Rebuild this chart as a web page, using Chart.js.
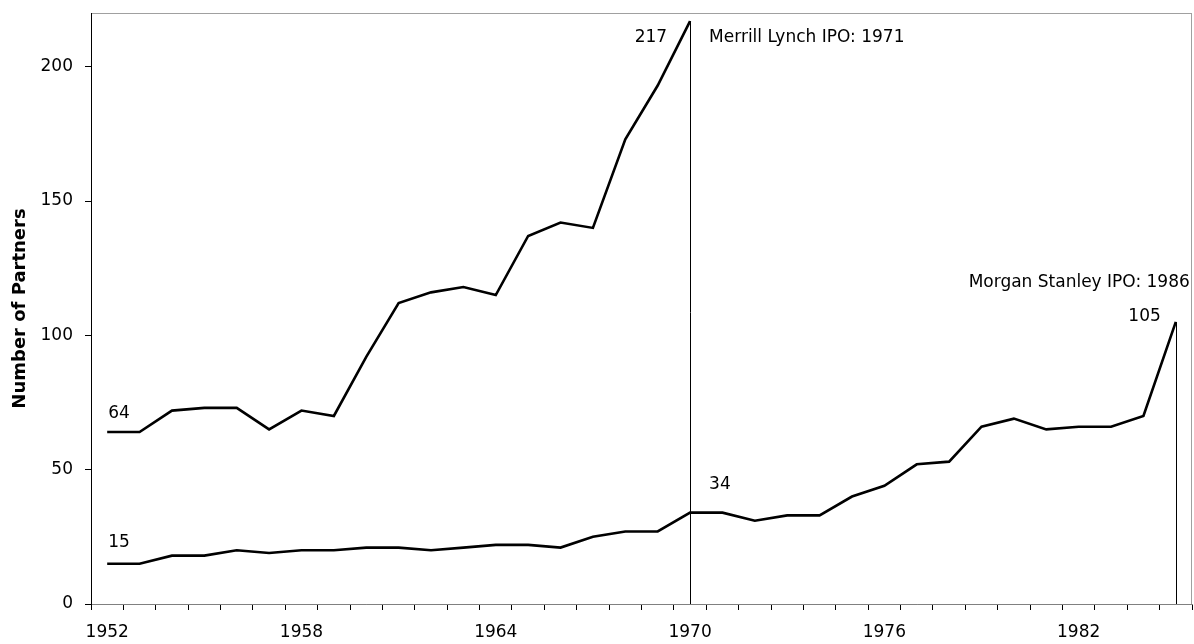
<!DOCTYPE html>
<html>
<head>
<meta charset="utf-8">
<title>Number of Partners</title>
<script src="https://cdn.jsdelivr.net/npm/chart.js@4.4.1/dist/chart.umd.min.js"></script>
<style>
  html, body { margin: 0; padding: 0; background: #fff; }
  #wrap { width: 1194px; height: 644px; }
</style>
</head>
<body>
<div id="wrap"><canvas id="partnersChart" width="1194" height="644"></canvas></div>
<script>
const years = [
  '1952', '1953', '1954', '1955', '1956', '1957', '1958', '1959', '1960', '1961',
  '1962', '1963', '1964', '1965', '1966', '1967', '1968', '1969', '1970', '1971',
  '1972', '1973', '1974', '1975', '1976', '1977', '1978', '1979', '1980', '1981',
  '1982', '1983', '1984', '1985'
];

// Merrill Lynch partners, 1952-1970
const merrillPartners = [64, 64, 72, 73, 73, 65, 72, 70, 92, 112, 116, 118, 115, 137, 142, 140, 173, 193, 217];

// Morgan Stanley partners, 1952-1985
const morganPartners = [
  15, 15, 18, 18, 20, 19, 20, 20, 21, 21, 20, 21, 22, 22, 21, 25, 27, 27, 34,
  34, 31, 33, 33, 40, 44, 52, 53, 66, 69, 65, 66, 66, 70, 105
];

const xTickLabels = ['1952', '1958', '1964', '1970', '1976', '1982'];
const yTickValues = [0, 50, 100, 150, 200];
const ipoNotes    = ['Merrill Lynch IPO: 1971', 'Morgan Stanley IPO: 1986'];

const FONT = '"DejaVu Sans", Verdana, sans-serif';

function lastIndex(arr) {
  return arr.length - 1;
}

// grey frame round the plot area, drawn before the axes
const framePlugin = {
  id: 'frame',
  beforeDraw(chart) {
    const { ctx, chartArea: a } = chart;
    ctx.save();
    ctx.strokeStyle = '#a0a0a0';
    ctx.lineWidth = 1;
    ctx.strokeRect(a.left + 0.5, a.top + 0.5, a.right - a.left - 1, a.bottom - a.top);
    ctx.restore();
  }
};

// drop lines at each IPO and the value labels
const notesPlugin = {
  id: 'notes',
  afterDatasetsDraw(chart) {
    const { ctx, scales: { x, y } } = chart;
    const pt = (arr, i) => ({ px: x.getPixelForValue(i), py: y.getPixelForValue(arr[i]) });

    ctx.save();
    ctx.strokeStyle = '#000';
    ctx.lineWidth = 1;
    [merrillPartners, morganPartners].forEach(arr => {
      const p  = pt(arr, lastIndex(arr));
      const lx = Math.round(p.px) + 0.5;
      ctx.beginPath();
      ctx.moveTo(lx, p.py);
      ctx.lineTo(lx, y.getPixelForValue(0));
      ctx.stroke();
    });

    const ml = lastIndex(merrillPartners);
    const ms = lastIndex(morganPartners);
    const notes = [
      { arr: merrillPartners, i: 0,  text: String(merrillPartners[0]),  dx: 1,   dy: -18, align: 'left'  },
      { arr: morganPartners,  i: 0,  text: String(morganPartners[0]),   dx: 1,   dy: -21, align: 'left'  },
      { arr: merrillPartners, i: ml, text: String(merrillPartners[ml]), dx: -23, dy: 17,  align: 'right' },
      { arr: merrillPartners, i: ml, text: ipoNotes[0],                 dx: 19,  dy: 17,  align: 'left'  },
      { arr: morganPartners,  i: ml, text: String(morganPartners[ml]),  dx: 19,  dy: -28, align: 'left'  },
      { arr: morganPartners,  i: ms, text: ipoNotes[1],                 dx: 14,  dy: -39, align: 'right' },
      { arr: morganPartners,  i: ms, text: String(morganPartners[ms]),  dx: -15, dy: -5,  align: 'right' }
    ];

    ctx.fillStyle = '#000';
    ctx.font = '17px ' + FONT;
    ctx.textBaseline = 'middle';
    notes.forEach(n => {
      const p = pt(n.arr, n.i);
      ctx.textAlign = n.align;
      ctx.fillText(n.text, p.px + n.dx, p.py + n.dy);
    });
    ctx.restore();
  }
};

const lineStyle = {
  borderColor: '#000',
  borderWidth: 2.6,
  pointRadius: 0,
  tension: 0,
  fill: false
};

new Chart(document.getElementById('partnersChart'), {
  type: 'line',
  data: {
    labels: years,
    datasets: [
      { label: 'Merrill Lynch',  data: merrillPartners, ...lineStyle },
      { label: 'Morgan Stanley', data: morganPartners,  ...lineStyle }
    ]
  },
  options: {
    responsive: false,
    devicePixelRatio: 1,
    animation: false,
    layout: { padding: { top: 13, right: 2, left: 0, bottom: 0 } },
    plugins: { legend: { display: false }, tooltip: { enabled: false } },
    scales: {
      x: {
        type: 'category',
        offset: true,
        afterFit: s => {
          s.height = 40;
          s.paddingLeft = 0;
          s.paddingRight = 0;
        },
        grid: { offset: true, drawOnChartArea: false, drawTicks: true, tickLength: 6, color: '#000' },
        border: { color: '#808080', width: 1 },
        ticks: {
          autoSkip: false,
          maxRotation: 0,
          padding: 12,
          color: '#000',
          font: { family: FONT, size: 17 },
          callback: (v, i) => xTickLabels.includes(years[i]) ? years[i] : ''
        }
      },
      y: {
        min: 0,
        max: 220,
        afterFit: s => {
          s.width = 91;
          s.paddingTop = 0;
          s.paddingBottom = 0;
        },
        afterBuildTicks: s => { s.ticks = yTickValues.map(v => ({ value: v })); },
        grid: { drawOnChartArea: false, drawTicks: true, tickLength: 6, color: '#000' },
        border: { color: '#000', width: 1 },
        ticks: { padding: 12, color: '#000', font: { family: FONT, size: 17 } },
        title: {
          display: true,
          text: 'Number of Partners',
          color: '#000',
          padding: { top: 10, bottom: 0 },
          font: { family: FONT, size: 18, weight: 'bold' }
        }
      }
    }
  },
  plugins: [framePlugin, notesPlugin]
});
</script>
</body>
</html>
